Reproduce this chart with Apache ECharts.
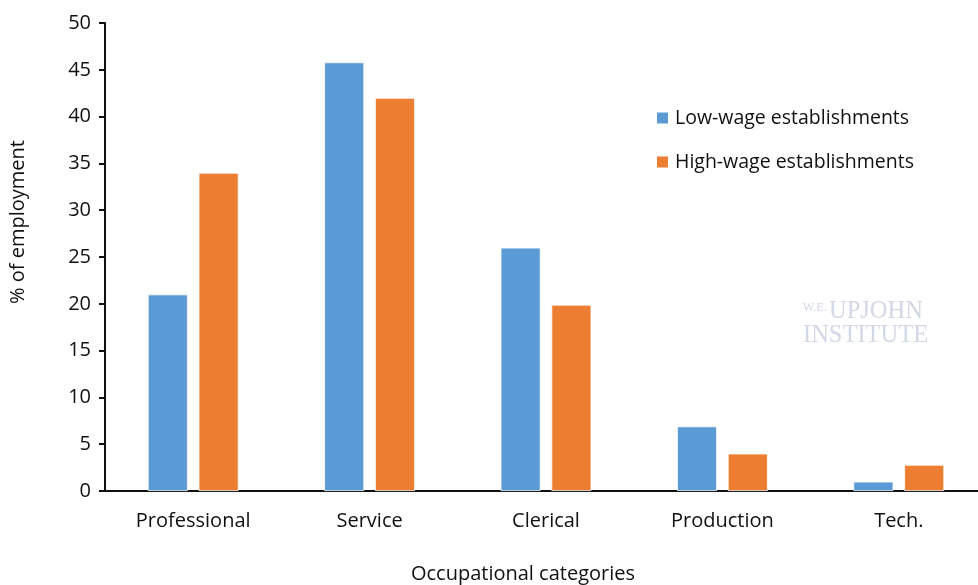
<!DOCTYPE html>
<html><head><meta charset="utf-8">
<script src="https://cdn.jsdelivr.net/npm/echarts@6/dist/echarts.min.js"></script>
<style>html,body{margin:0;padding:0;background:#fff}#c{width:978px;height:585px}</style>
</head><body><div id="c"></div>
<script>
const categories = ['Professional', 'Service', 'Clerical', 'Production', 'Tech.'];
const lowWage = [21, 45.8, 26, 6.9, 1];
const highWage = [34, 42, 19.9, 4, 2.8];
const seriesNames = ['Low-wage establishments', 'High-wage establishments'];
const yTicks = {min: 0, max: 50, interval: 5};

const font = 'Open Sans';
const ink = '#111111';
const chart = echarts.init(document.getElementById('c'), null, {renderer: 'canvas'});
chart.setOption({
  animation: false,
  backgroundColor: '#fff',
  grid: {left: 105, right: -9, top: 23, bottom: 94, containLabel: false, outerBoundsMode: 'none'},
  legend: {
    orient: 'vertical', left: 650, top: 103, itemWidth: 13, itemHeight: 13, itemGap: 24,
    icon: 'rect',
    textStyle: {fontFamily: font, fontSize: 19.5, color: ink, padding: [0, 0, 0, 1]},
    data: seriesNames
  },
  xAxis: {
    type: 'category', data: categories,
    axisLine: {lineStyle: {color: ink, width: 2}},
    axisTick: {show: false},
    axisLabel: {fontFamily: font, fontSize: 20, color: ink, margin: 20}
  },
  yAxis: {
    type: 'value', min: yTicks.min, max: yTicks.max, interval: yTicks.interval,
    axisLine: {show: true, lineStyle: {color: ink, width: 2}},
    axisTick: {show: true, inside: false, length: 6, lineStyle: {color: ink, width: 2}},
    splitLine: {show: false},
    axisLabel: {fontFamily: font, fontSize: 20, color: ink, margin: 14}
  },
  graphic: [
    {type: 'text', left: 8, top: 140, rotation: Math.PI/2,
     style: {text: '% of employment', fontFamily: font, fontSize: 20, fill: ink}},
    {type: 'text', x: 523, y: 574,
     style: {text: 'Occupational categories', fontFamily: font, fontSize: 20, fill: ink,
             textAlign: 'center', textVerticalAlign: 'middle'}},
    {type: 'text', left: 803, top: 302,
     style: {text: 'W.E.', fontFamily: 'Liberation Serif', fontSize: 12, fill: '#d3d7e6'}},
    {type: 'text', left: 829, top: 299,
     style: {text: 'UPJOHN', fontFamily: 'Liberation Serif', fontSize: 24.5, fill: '#d3d7e6'}},
    {type: 'text', left: 803, top: 323,
     style: {text: 'INSTITUTE', fontFamily: 'Liberation Serif', fontSize: 24.5, fill: '#d3d7e6'}}
  ],
  series: [
    {name: seriesNames[0], type: 'bar', data: lowWage, barWidth: 40, barGap: '27%',
     itemStyle: {color: '#5B9BD5', borderColor: '#ffffff', borderWidth: 0.8}},
    {name: seriesNames[1], type: 'bar', data: highWage, barWidth: 40,
     itemStyle: {color: '#ED7D31', borderColor: '#ffffff', borderWidth: 0.8}}
  ]
});
</script></body></html>
